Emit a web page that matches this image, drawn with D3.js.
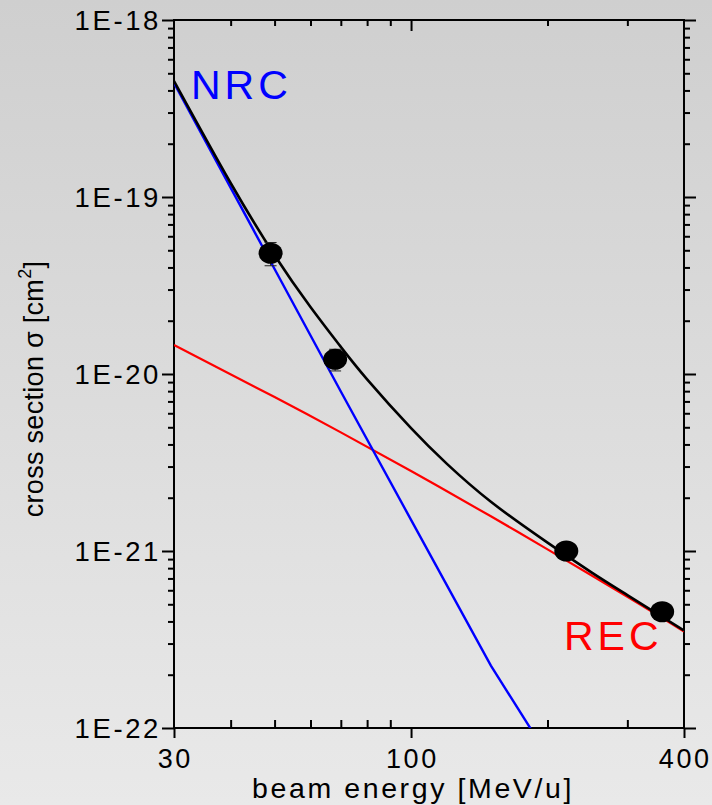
<!DOCTYPE html>
<html lang="en">
<head>
  <meta charset="UTF-8">
  <title>Cross section vs beam energy</title>
  <script src="https://d3js.org/d3.v7.min.js"></script>
  <style>
    body {
      margin: 0;
      font-family: 'Liberation Sans', Arial, sans-serif;
    }
    svg text {
      fill: #000;
    }
  </style>
</head>
<body>
  <svg id="chart" width="712" height="805"></svg>

  <script>
    // beam energy [MeV/u] and cross sections [cm^2]
    var nrcEnergy = [30, 50, 70, 100, 150, 200];
    var nrcSigma = [4.41e-19, 3.92e-20, 7.96e-21, 1.50e-21, 2.25e-22, 7.0e-23];

    var recEnergy = [30, 50, 70, 100, 150, 200, 300, 400];
    var recSigma = [1.458e-20, 7.41e-21, 4.68e-21, 2.83e-21, 1.57e-21, 1.022e-21, 5.51e-22, 3.51e-22];

    var totalEnergy = [30, 40, 50, 60, 70, 80, 100, 120, 150, 200, 250, 300, 400];
    var totalSigma = [4.52e-19, 1.20e-19, 4.69e-20, 2.39e-20, 1.423e-20, 9.33e-21, 4.94e-21,
                      3.105e-21, 1.897e-21, 1.115e-21, 7.58e-22, 5.64e-22, 3.556e-22];

    var measEnergy = [49, 68, 220, 358];
    var measSigma = [4.81e-20, 1.21e-20, 1.00e-21, 4.54e-22];
    var measErr = [0.15, 0.14, 0.05, 0.05];   // relative

    var xMajor = [30, 100, 400];
    var xMinor = [40, 50, 60, 70, 80, 90, 200, 300];
    var yMajor = [1e-22, 1e-21, 1e-20, 1e-19, 1e-18];
    var yLabels = ["1E-22", "1E-21", "1E-20", "1E-19", "1E-18"];

    var W = 712, H = 805;
    var mLeft = 174, mRight = 684, mTop = 20, mBottom = 728;

    var svg = d3.select("#chart");

    // grey backdrop, darker at the top
    var defs = svg.append("defs");
    var grad = defs.append("linearGradient")
      .attr("id", "bg").attr("x1", 0).attr("y1", 0).attr("x2", 0).attr("y2", 1);
    grad.append("stop").attr("offset", "0%").attr("stop-color", "#cfcfcf");
    grad.append("stop").attr("offset", "100%").attr("stop-color", "#e9e9e9");
    svg.append("rect").attr("width", W).attr("height", H).attr("fill", "url(#bg)");

    defs.append("clipPath").attr("id", "plot")
      .append("rect")
      .attr("x", mLeft).attr("y", mTop)
      .attr("width", mRight - mLeft).attr("height", mBottom - mTop);

    var x = d3.scaleLog().domain([30, 400]).range([mLeft, mRight]);
    var y = d3.scaleLog().domain([1e-22, 1e-18]).range([mBottom, mTop]);

    var yMinor = [];
    yMajor.slice(0, -1).forEach(function(d) {
      for (var k = 2; k <= 9; k++) yMinor.push(d * k);
    });

    // frame
    svg.append("rect")
      .attr("x", mLeft).attr("y", mTop)
      .attr("width", mRight - mLeft).attr("height", mBottom - mTop)
      .attr("fill", "none").attr("stroke", "#000").attr("stroke-width", 2);

    function ticks(axis, vals, size, offset) {
      var g = svg.append("g")
        .attr("transform", offset)
        .call(axis.tickValues(vals).tickSize(size).tickFormat(""));
      g.select(".domain").remove();
      g.selectAll(".tick line").attr("stroke", "#000").attr("stroke-width", 2);
      return g;
    }

    // left: outward, right: inward, bottom minor inward / major outward, top inward
    ticks(d3.axisLeft(y), yMinor, 6, "translate(" + mLeft + ",0)");
    ticks(d3.axisLeft(y), yMajor, 12, "translate(" + mLeft + ",0)");
    ticks(d3.axisLeft(y), yMinor, -6, "translate(" + mRight + ",0)");
    ticks(d3.axisLeft(y), yMajor, -12, "translate(" + mRight + ",0)");
    ticks(d3.axisBottom(x), xMinor, -8, "translate(0," + mBottom + ")");
    ticks(d3.axisBottom(x), xMajor, 10, "translate(0," + mBottom + ")");
    ticks(d3.axisTop(x), xMinor, -6, "translate(0," + mTop + ")");
    ticks(d3.axisTop(x), [100], -11, "translate(0," + mTop + ")");

    // tick labels
    svg.append("g").selectAll("text")
      .data(yMajor)
      .join("text")
      .attr("x", 161)
      .attr("y", function(d) { return y(d) + 10; })
      .attr("text-anchor", "end")
      .attr("font-size", 27.5)
      .attr("letter-spacing", 2.6)
      .text(function(d, i) { return yLabels[i]; });

    svg.append("g").selectAll("text")
      .data(xMajor)
      .join("text")
      .attr("x", function(d) { return x(d) + 1.3; })
      .attr("y", 768)
      .attr("text-anchor", "middle")
      .attr("font-size", 27)
      .attr("letter-spacing", 2.6)
      .text(function(d) { return d; });

    // axis titles
    svg.append("text")
      .attr("x", 413).attr("y", 798)
      .attr("text-anchor", "middle")
      .attr("font-size", 28.5)
      .attr("letter-spacing", 2.6)
      .text("beam energy [MeV/u]");

    var yt = svg.append("text")
      .attr("transform", "translate(43,389) rotate(-90)")
      .attr("text-anchor", "middle")
      .attr("font-size", 27)
      .attr("letter-spacing", 0.3);
    yt.append("tspan").text("cross section  \u03c3  [cm");
    yt.append("tspan").attr("dy", -12).attr("font-size", 18).text("2");
    yt.append("tspan").attr("dy", 12).text("]");

    // curves
    var plot = svg.append("g").attr("clip-path", "url(#plot)");

    var line = d3.line()
      .x(function(d) { return x(d[0]); })
      .y(function(d) { return y(d[1]); });

    plot.append("path")
      .datum(d3.zip(recEnergy, recSigma))
      .attr("d", line.curve(d3.curveNatural))
      .attr("fill", "none").attr("stroke", "#ff0000").attr("stroke-width", 2.2);

    plot.append("path")
      .datum(d3.zip(nrcEnergy, nrcSigma))
      .attr("d", line.curve(d3.curveLinear))
      .attr("fill", "none").attr("stroke", "#0000ff").attr("stroke-width", 2.4);

    plot.append("path")
      .datum(d3.zip(totalEnergy, totalSigma))
      .attr("d", line.curve(d3.curveNatural))
      .attr("fill", "none").attr("stroke", "#000").attr("stroke-width", 2.6);

    // measured points with error bars
    var meas = d3.range(measEnergy.length).map(function(i) {
      return { e: measEnergy[i], s: measSigma[i], err: measErr[i] };
    });

    var pts = svg.append("g").selectAll("g")
      .data(meas)
      .join("g");

    pts.append("line")
      .attr("x1", function(d) { return x(d.e); })
      .attr("x2", function(d) { return x(d.e); })
      .attr("y1", function(d) { return y(d.s * (1 + d.err)); })
      .attr("y2", function(d) { return y(d.s * (1 - d.err)); })
      .attr("stroke", "#222").attr("stroke-width", 1);
    [1, -1].forEach(function(sgn) {
      pts.append("line")
        .attr("x1", function(d) { return x(d.e) - 6; })
        .attr("x2", function(d) { return x(d.e) + 6; })
        .attr("y1", function(d) { return y(d.s * (1 + sgn * d.err)); })
        .attr("y2", function(d) { return y(d.s * (1 + sgn * d.err)); })
        .attr("stroke", "#222").attr("stroke-width", 1);
    });
    pts.append("ellipse")
      .attr("cx", function(d) { return x(d.e); })
      .attr("cy", function(d) { return y(d.s); })
      .attr("rx", 12).attr("ry", 10.5)
      .attr("fill", "#000");

    // curve labels
    svg.append("text")
      .attr("x", 191).attr("y", 99)
      .attr("font-size", 41).attr("letter-spacing", 4)
      .style("fill", "#0000ff")
      .text("NRC");

    svg.append("text")
      .attr("x", 564).attr("y", 650)
      .attr("font-size", 41).attr("letter-spacing", 4)
      .style("fill", "#ff0000")
      .text("REC");
  </script>
</body>
</html>
